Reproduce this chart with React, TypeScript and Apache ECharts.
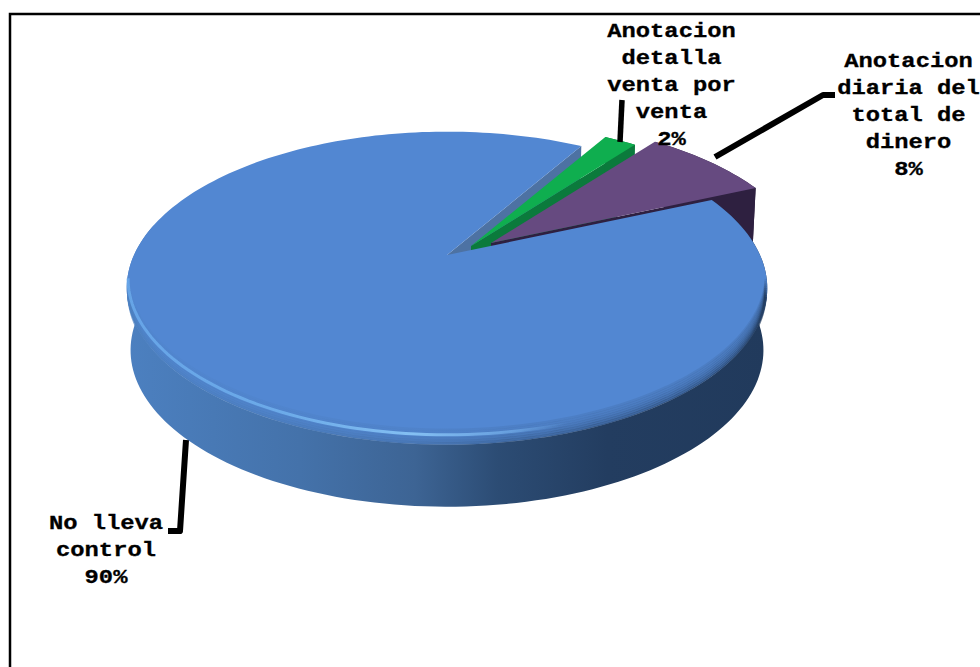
import React, { useEffect, useRef } from "react";
import * as echarts from "echarts";

const categories = [
  "No lleva\ncontrol",
  "Anotacion\ndetalla\nventa por\nventa",
  "Anotacion\ndiaria del\ntotal de\ndinero",
];
const shares = [90, 2, 8];

// Disc projection: a circle in perspective, with the near side larger.
const CX = 447;
const CY = 255;
const RX = 313;
const RY = 149.5;
const PERSPECTIVE = 0.212;
const DEPTH = 62;
// Screen angle (counter-clockwise from east) where the first slice begins.
const START_DEG = 23.5;

const sliceStyles = [
  { top: "#5287d2", cut: "#4d72a3", offset: [0, 0] },
  { top: "#0fae4f", cut: "#0b7a3c", offset: [24, -9] },
  { top: "#664a80", cut: "#2e2040", offset: [44, -12] },
];

// Leader strokes run from each slice out to its label.
const leaders = [
  { points: [[186, 440], [180, 531], [168, 531]], width: 6 },
  { points: [[622, 100], [620, 142]], width: 5.5 },
  { points: [[715, 157], [823, 95], [835, 95]], width: 6 },
];
const labelAnchors = [
  { x: 106, y: 551, lineHeight: 27.5 },
  { x: 671.5, y: 86, lineHeight: 27 },
  { x: 908.5, y: 116, lineHeight: 27 },
];

const wallStops = [
  [0, 76, 128, 192],
  [0.27, 68, 114, 170],
  [0.45, 61, 100, 148],
  [0.58, 44, 76, 116],
  [0.75, 35, 61, 96],
  [1, 33, 58, 92],
];

function wallGradient(alpha: number) {
  return new echarts.graphic.LinearGradient(
    0,
    0,
    1,
    0,
    wallStops.map(([offset, r, g, b]) => ({
      offset,
      color: `rgba(${r},${g},${b},${alpha})`,
    }))
  );
}

function project(deg: number, r: number, offset: number[], depth: number) {
  const a = (deg * Math.PI) / 180;
  const u = r * Math.cos(a);
  const v = -r * Math.sin(a);
  const w = 1 - PERSPECTIVE * v;
  const shrink = 1 - (Math.max(depth, 0) / DEPTH) * 0.012;
  return [
    CX + offset[0] + (RX * u * shrink) / w,
    CY + offset[1] + (RY * v) / w + depth,
  ];
}

function arcPoints(from: number, to: number, r: number, offset: number[], depth: number) {
  const steps = Math.max(2, Math.ceil(Math.abs(to - from) / 1.5));
  const pts: number[][] = [];
  for (let i = 0; i <= steps; i++) {
    pts.push(project(from + ((to - from) * i) / steps, r, offset, depth));
  }
  return pts;
}

function toPath(pts: number[][], close = true) {
  return (
    pts.map((p, i) => `${i ? "L" : "M"}${p[0].toFixed(2)} ${p[1].toFixed(2)}`).join("") +
    (close ? "Z" : "")
  );
}

function pathEl(d: string, style: any, z2: number) {
  return { type: "path", shape: { pathData: d }, style, z2, silent: true };
}

function sliceAngles(index: number) {
  const total = shares.reduce((s, x) => s + x, 0);
  let before = 0;
  for (let i = 0; i < index; i++) before += shares[i];
  const start = START_DEG - (before / total) * 360;
  return [start, start - (shares[index] / total) * 360];
}

function renderSlice(params: any) {
  const i = params.dataIndex;
  const [a0, a1] = sliceAngles(i);
  const { top, cut, offset } = sliceStyles[i];
  const apex = project(0, 0, offset, 0);
  const apexLow = project(0, 0, offset, DEPTH);
  const rim = arcPoints(a0, a1, 1, offset, 0);
  const rimLow = arcPoints(a0, a1, 1, offset, DEPTH);
  const topFace = [apex, ...rim];
  const children: any[] = [];
  const e = rim[rim.length - 1];
  const eLow = rimLow[rimLow.length - 1];

  if (i === 0) {
    // The large slice: gradient outer wall, cut face into the notch, lit top.
    const front = arcPoints(a0, -192, 1, offset, 0);
    const frontLow = arcPoints(a0, -192, 1, offset, DEPTH);
    children.push(
      pathEl(toPath([...front, ...frontLow.slice().reverse()]), { fill: wallGradient(1) }, 50)
    );
    children.push(pathEl(toPath([apex, e, eLow, apexLow]), { fill: cut }, 5));
    children.push(pathEl(toPath(topFace), { fill: top }, 60));

    // Soft bevel: stacked arcs fade the top colour into the wall colour.
    const bevelSteps = 9;
    for (let k = 0; k < bevelSteps; k++) {
      const t = k / (bevelSteps - 1);
      const seam = arcPoints(-14, -166, 0.996, offset, -14 + 18 * t);
      children.push(
        pathEl(
          toPath(seam, false),
          { fill: "none", stroke: wallGradient(0.12 + 0.55 * t * t), lineWidth: 2.6 },
          61 + k
        )
      );
    }
    // Highlight along the lit front-left of the bevel.
    const glowFill = new echarts.graphic.LinearGradient(0, 0, 1, 0, [
      { offset: 0, color: "rgba(110,175,240,0.75)" },
      { offset: 0.35, color: "rgba(115,180,240,0.8)" },
      { offset: 0.65, color: "rgba(135,195,245,0.95)" },
      { offset: 0.88, color: "rgba(120,180,240,0.6)" },
      { offset: 1, color: "rgba(110,170,235,0)" },
    ]);
    const glowPts = arcPoints(-168, -72, 0.996, offset, -9);
    children.push(
      pathEl(toPath(glowPts, false), { fill: "none", stroke: glowFill, lineWidth: 3 }, 75)
    );
  } else {
    // Exploded slices sit behind the large one and show their near cut face.
    const base = i === 1 ? 10 : 20;
    children.push(pathEl(toPath([apex, e, eLow, apexLow]), { fill: cut }, base));
    children.push(pathEl(toPath([...rim, ...rimLow.slice().reverse()]), { fill: cut }, base + 1));
    children.push(pathEl(toPath(topFace), { fill: top }, base + 2));
  }

  const anchor = labelAnchors[i];
  children.push({
    type: "text",
    x: anchor.x,
    y: anchor.y,
    scaleX: 1.19,
    z2: 100,
    silent: true,
    style: {
      text: `${categories[i]}\n${shares[i]}%`,
      x: 0,
      y: 0,
      font: 'bold 20px "Liberation Mono", monospace',
      lineHeight: anchor.lineHeight,
      fill: "#000",
      stroke: "#000",
      lineWidth: 0.3,
      align: "center",
      verticalAlign: "middle",
    },
  });
  const lead = leaders[i];
  children.push({
    type: "polyline",
    shape: { points: lead.points },
    style: { fill: "none", stroke: "#000", lineWidth: lead.width, lineJoin: "round" },
    z2: 90,
    silent: true,
  });
  return { type: "group", children };
}

export default function App() {
  const ref = useRef<HTMLDivElement>(null);
  useEffect(() => {
    document.body.style.margin = "0";
    const chart = echarts.init(ref.current!, undefined, { renderer: "svg" });
    chart.setOption({
      animation: false,
      backgroundColor: "#fff",
      graphic: [
        {
          type: "rect",
          shape: { x: 10, y: 14, width: 1000, height: 700 },
          style: { fill: "none", stroke: "#000", lineWidth: 2.5 },
          silent: true,
        },
      ],
      series: [
        {
          type: "custom",
          coordinateSystem: "none",
          clip: false,
          data: shares.map((v, i) => ({ name: categories[i], value: v })),
          renderItem: renderSlice,
        },
      ],
    });
    return () => chart.dispose();
  }, []);
  return <div ref={ref} style={{ width: 980, height: 667 }} />;
}
